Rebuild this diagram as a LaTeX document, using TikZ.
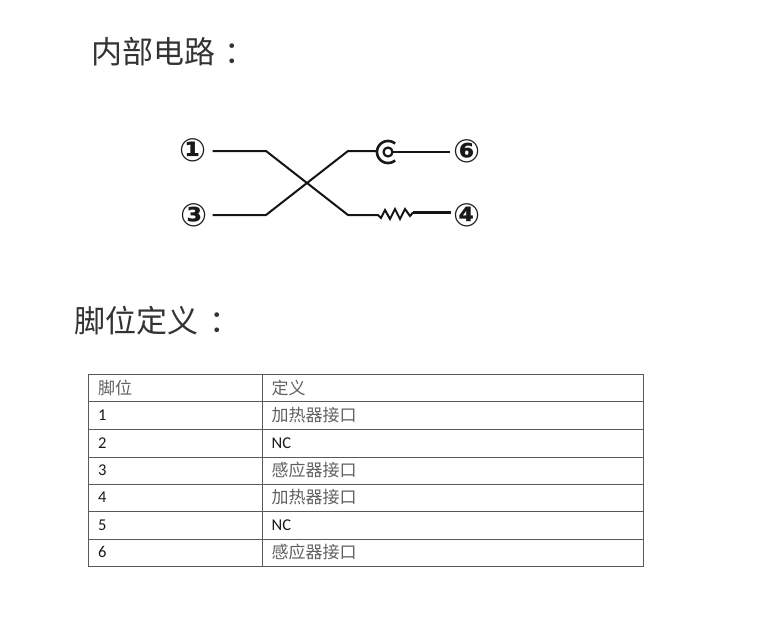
\documentclass[tikz,border=0pt]{standalone}
\usepackage{fontspec}
\setmainfont{Carlito}
\newfontfamily\cjkf{Noto Sans CJK SC}
\newfontfamily\symf{DejaVu Sans}
\tikzset{
  wire/.style={line width=2pt,black!92},
  headtext/.style={inner sep=0pt,anchor=west,font=\cjkf\fontsize{31}{31}\selectfont,text=black!80},
  pinlabel/.style={inner sep=0pt,font=\symf\bfseries\fontsize{32}{32}\selectfont,text=black!90},
  cellcj/.style={inner sep=0pt,anchor=west,font=\cjkf\fontsize{17}{17}\selectfont,text=black!62},
  celllat/.style={inner sep=0pt,anchor=west,font=\fontsize{16.5}{16.5}\selectfont,text=black!90},
  rule/.style={line width=0.8pt,black!65}
}
\begin{document}
\begin{tikzpicture}[x=1pt,y=-1pt]
\useasboundingbox (0,0) rectangle (760,642);
\node[headtext] (h1) at (91,52) {内部电路\hspace{9pt}：};
\node[headtext] (h2) at (74,321) {脚位定义\hspace{11pt}：};

\node[pinlabel] (p1) at (193,150) {①};
\node[pinlabel] (p3) at (194,215) {③};
\node[pinlabel] (p6) at (467,151) {⑥};
\node[pinlabel] (p4) at (467,215.5) {④};

\coordinate (a1) at (266,151);
\coordinate (a3) at (266,215);
\coordinate (a6) at (348,151);
\coordinate (a4) at (348,215);
\coordinate (cc) at (388,152);
\coordinate (cl) at (376,151);
\coordinate (r1) at (378,215);
\coordinate (r2) at (413,212.5);
\coordinate (w6) at (450,152);
\coordinate (w4) at (451,212.5);

\draw[wire] (p1.east) ++(6,1) -- (a1) -- (a4) -- (r1)
  -- (381,218) -- (385,210) -- (390,219) -- (395,209) -- (400,219) -- (405,209) -- (410,216) -- (r2);
\draw[wire,line width=2.6pt] (r2) -- (w4);
\draw[wire] (p3.east) ++(5,0) -- (a3) -- (a6) -- (cl);
\draw[line width=2.6pt,black!90,domain=50:310,samples=40,smooth]
  plot ({388+11*cos(\x)},{152-11*sin(\x)});
\draw[line width=2.2pt,black!90] (cc) circle[radius=4.5];
\draw[wire] (392.5,152) -- (w6);

% table
\draw[rule] (88,374) rectangle (643,566);
\foreach \yy in {401.5,429,457,484,511.5,539}
  \draw[rule] (88,\yy) -- (643,\yy);
\draw[rule] (262,374) -- (262,566);

\node[cellcj] (t0a) at (98,388) {脚位};
\node[cellcj] (t0b) at (271.5,388) {定义};
\node[celllat] (t1a) at (98,415.5) {1};
\node[cellcj] (t1b) at (271.5,415) {加热器接口};
\node[celllat] (t2a) at (98,443) {2};
\node[celllat] (t2b) at (271.5,443) {NC};
\node[celllat] (t3a) at (98,470) {3};
\node[cellcj] (t3b) at (271.5,470) {感应器接口};
\node[celllat] (t4a) at (98,497.5) {4};
\node[cellcj] (t4b) at (271.5,497) {加热器接口};
\node[celllat] (t5a) at (98,525) {5};
\node[celllat] (t5b) at (271.5,525) {NC};
\node[celllat] (t6a) at (98,552) {6};
\node[cellcj] (t6b) at (271.5,552) {感应器接口};
\end{tikzpicture}
\end{document}
